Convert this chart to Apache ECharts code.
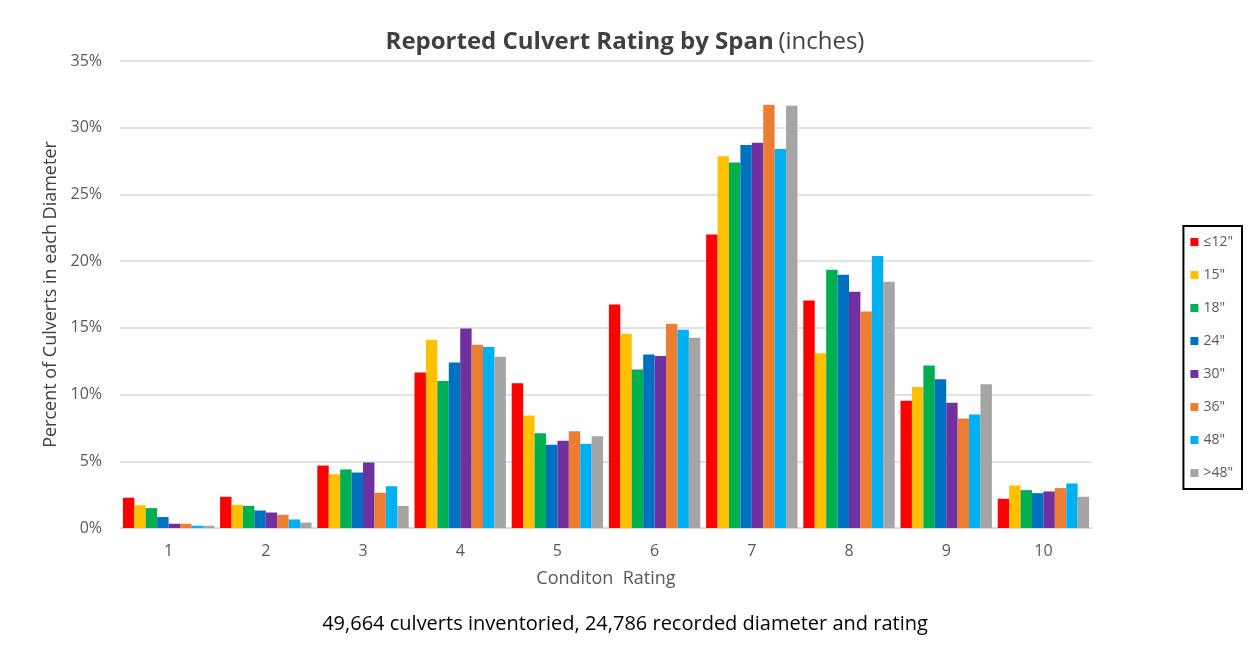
<!DOCTYPE html>
<html><head><meta charset="utf-8">
<script src="https://cdn.jsdelivr.net/npm/echarts@6/dist/echarts.min.js"></script>
<style>html,body{margin:0;padding:0;background:#fff}#c{width:1250px;height:650px}</style>
</head><body><div id="c"></div>
<script>
const categories = ['1','2','3','4','5','6','7','8','9','10'];
const seriesNames = ['≤12"','15"','18"','24"','30"','36"','48"','>48"'];
const colors = ['#FF0000','#FFC000','#00B050','#0070C0','#7030A0','#ED7D31','#00B0F0','#A5A5A5'];
const le12 = [2.27, 2.34, 4.68, 11.66, 10.85, 16.75, 22.0, 17.05, 9.54, 2.19];
const s15  = [1.71, 1.74, 4.03, 14.1, 8.43, 14.56, 27.87, 13.1, 10.56, 3.19];
const s18  = [1.49, 1.66, 4.39, 11.02, 7.1, 11.88, 27.4, 19.36, 12.18, 2.84];
const s24  = [0.82, 1.31, 4.16, 12.4, 6.24, 13.0, 28.7, 18.98, 11.15, 2.61];
const s30  = [0.32, 1.16, 4.91, 14.95, 6.54, 12.9, 28.87, 17.7, 9.39, 2.74];
const s36  = [0.32, 0.99, 2.64, 13.74, 7.26, 15.28, 31.72, 16.23, 8.21, 2.99];
const s48  = [0.17, 0.64, 3.13, 13.56, 6.31, 14.86, 28.4, 20.38, 8.51, 3.34];
const gt48 = [0.17, 0.41, 1.66, 12.84, 6.88, 14.26, 31.65, 18.46, 10.78, 2.34];
const seriesData = [le12, s15, s18, s24, s30, s36, s48, gt48];

const FONT = '"Open Sans", sans-serif';
const chart = echarts.init(document.getElementById('c'));
chart.setOption({
  animation: false,
  textStyle: { fontFamily: FONT },
  title: [
    { text: '{b|Reported Culvert Rating by Span} {n|(inches)}', left: 'center', top: 25,
      textStyle: { rich: {
        b: { fontFamily: FONT, fontSize: 24, fontWeight: 'bold', color: '#404040' },
        n: { fontFamily: FONT, fontSize: 24, fontWeight: 'normal', color: '#404040' } } } },
    { text: '49,664 culverts inventoried, 24,786 recorded diameter and rating', left: 'center', top: 609,
      textStyle: { fontFamily: FONT, fontSize: 20, fontWeight: 'normal', color: '#000' } }
  ],
  legend: {
    orient: 'vertical', right: 8, top: 226,
    data: seriesNames,
    itemWidth: 8, itemHeight: 8, itemGap: 19,
    icon: 'rect',
    borderColor: '#000', borderWidth: 2, padding: [9, 9, 9, 7],
    textStyle: { fontFamily: FONT, fontSize: 14, color: '#595959', lineHeight: 14 }
  },
  grid: { left: 120, right: 158, top: 61, bottom: 122, containLabel: false },
  xAxis: {
    type: 'category', data: categories,
    name: 'Conditon  Rating', nameLocation: 'middle', nameGap: 42,
    nameTextStyle: { fontFamily: FONT, fontSize: 18, color: '#595959' },
    axisLine: { lineStyle: { color: '#D9D9D9', width: 1.5 } },
    axisTick: { show: false },
    axisLabel: { fontFamily: FONT, fontSize: 16, color: '#595959', margin: 15 }
  },
  yAxis: {
    type: 'value', min: 0, max: 35, interval: 5,
    name: 'Percent of Culverts in each Diameter', nameLocation: 'middle', nameGap: 54,
    nameTextStyle: { fontFamily: FONT, fontSize: 18, color: '#404040' },
    axisLine: { show: false }, axisTick: { show: false },
    axisLabel: { formatter: '{value}%', fontFamily: FONT, fontSize: 16, color: '#595959', margin: 18 },
    splitLine: { lineStyle: { color: '#D9D9D9', width: 1.5 } }
  },
  series: seriesNames.map((n, i) => ({
    name: n, type: 'bar', data: seriesData[i],
    barGap: '0%', barCategoryGap: '6%',
    itemStyle: { color: colors[i] }
  }))
});
</script></body></html>
